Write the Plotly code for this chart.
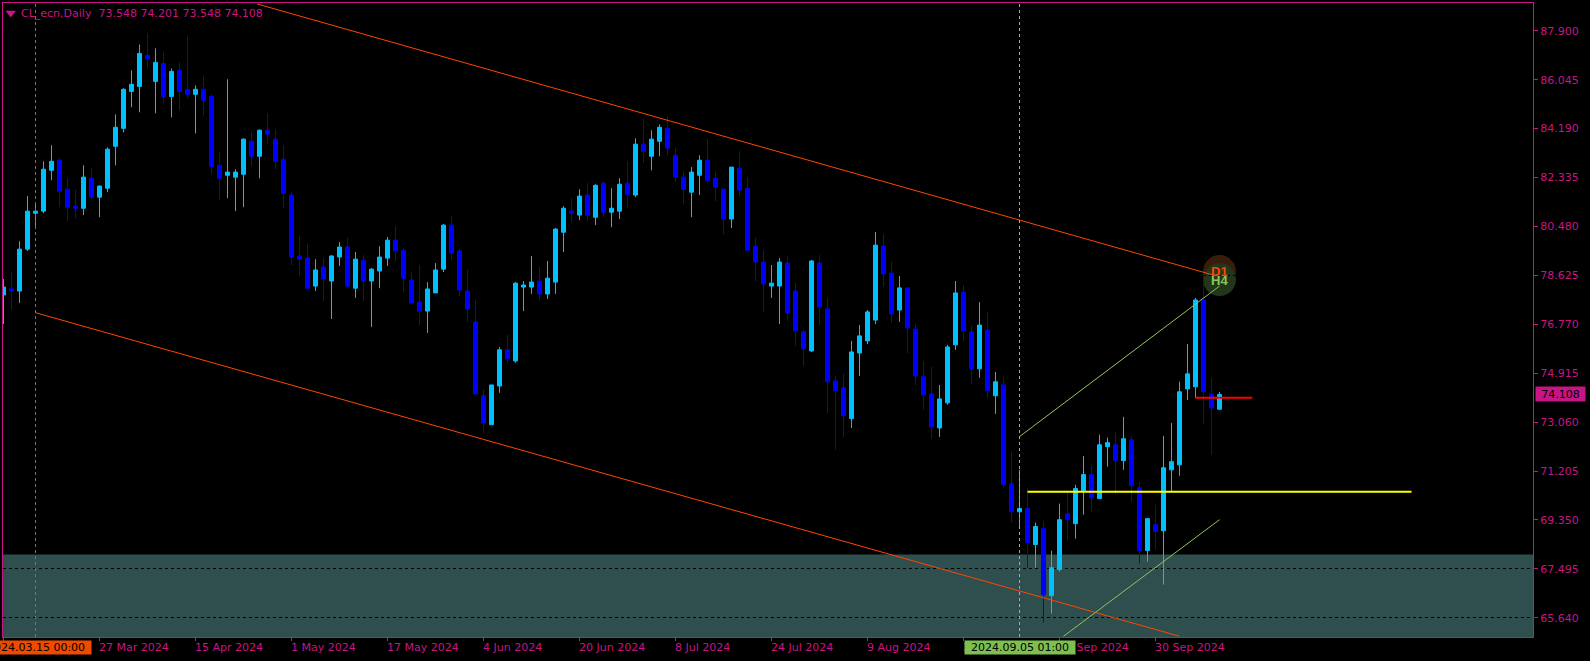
import plotly.graph_objects as go

PINK = '#C71585'
ORANGE = '#FF4500'
GREEN = '#8FC45A'
FONT = 'DejaVu Sans'

# daily bars
opens = [
    77.88, 78.11, 78.03, 79.62, 80.98, 81.06, 82.61, 82.99, 81.89, 81.25,
    81.17, 82.31, 81.59, 81.93, 83.52, 84.20, 85.60, 85.79, 86.97, 85.98,
    86.66, 85.41, 86.40, 85.68, 85.49, 85.68, 85.41, 82.80, 82.42, 82.35,
    82.46, 83.71, 83.14, 84.13, 83.79, 83.03, 81.67, 79.36, 79.28, 78.22,
    78.94, 78.41, 79.32, 79.70, 78.14, 79.20, 78.41, 78.79, 79.28, 79.96,
    79.58, 78.45, 77.61, 77.27, 77.96, 78.86, 80.53, 79.55, 78.03, 76.86,
    74.06, 72.96, 74.43, 75.80, 75.38, 78.18, 78.18, 78.41, 77.92, 78.37,
    80.26, 81.06, 80.91, 81.67, 80.83, 82.12, 81.02, 81.06, 82.12, 81.67,
    83.60, 83.14, 83.71, 84.20, 83.18, 82.35, 81.78, 82.42, 82.99, 82.31,
    81.89, 80.76, 82.69, 81.93, 79.73, 79.13, 78.22, 78.22, 79.09, 78.03,
    76.48, 75.76, 79.09, 77.35, 74.62, 74.36, 73.19, 75.68, 76.14, 76.93,
    79.74, 78.71, 77.31, 78.15, 76.59, 74.78, 74.13, 72.84, 73.79, 75.99,
    77.99, 76.48, 75.08, 76.55, 74.06, 74.47, 70.72, 69.66, 69.78, 68.42,
    69.02, 66.48, 67.47, 69.59, 69.21, 70.46, 71.07, 70.16, 72.13, 72.20,
    71.60, 72.39, 70.57, 68.19, 69.17, 68.94, 71.25, 71.44, 74.32, 74.40,
    77.69, 74.13, 73.548,
]
highs = [
    78.49, 78.75, 79.92, 81.63, 81.33, 82.95, 83.56, 83.07, 82.31, 81.86,
    82.80, 82.69, 82.04, 83.48, 84.73, 85.72, 86.40, 87.38, 87.80, 87.23,
    87.08, 86.47, 86.70, 87.69, 85.83, 86.17, 85.49, 83.29, 86.06, 82.65,
    83.82, 84.05, 84.16, 84.77, 84.16, 83.56, 81.78, 80.11, 79.81, 79.24,
    79.28, 79.39, 79.89, 80.04, 79.51, 79.39, 78.90, 79.73, 80.08, 80.49,
    79.66, 78.75, 79.02, 78.37, 79.09, 80.57, 80.87, 79.62, 78.83, 77.69,
    74.28, 74.47, 75.91, 76.37, 78.37, 78.41, 79.36, 78.94, 79.17, 80.42,
    81.25, 81.55, 81.89, 82.12, 82.08, 82.20, 81.93, 82.31, 82.95, 83.82,
    84.58, 84.13, 84.35, 84.66, 83.45, 82.57, 82.73, 83.18, 83.79, 82.57,
    81.93, 82.73, 83.33, 82.35, 80.04, 79.58, 79.02, 79.28, 79.36, 78.33,
    76.55, 79.21, 79.39, 77.77, 74.81, 74.89, 76.14, 76.74, 77.31, 80.27,
    80.19, 79.13, 78.60, 78.15, 76.78, 75.38, 75.15, 74.47, 75.99, 78.41,
    78.26, 76.71, 77.61, 77.24, 74.96, 74.78, 71.94, 71.25, 70.54, 69.25,
    69.32, 68.19, 69.97, 70.38, 70.69, 71.78, 71.41, 72.58, 72.47, 72.69,
    73.26, 72.54, 70.80, 69.40, 69.93, 72.54, 73.03, 74.59, 76.02, 77.77,
    78.71, 74.74, 74.201,
]
lows = [
    76.78, 77.31, 77.58, 79.55, 80.47, 80.98, 82.23, 81.21, 80.68, 80.80,
    80.91, 81.51, 80.83, 81.78, 82.80, 84.05, 85.00, 84.81, 86.47, 84.77,
    85.15, 84.62, 84.88, 85.34, 84.01, 84.69, 82.46, 81.48, 81.55, 81.06,
    81.21, 82.76, 82.31, 83.63, 82.65, 81.17, 79.02, 78.60, 78.11, 78.03,
    77.65, 76.97, 78.98, 78.18, 77.77, 77.65, 76.67, 78.14, 78.98, 79.17,
    77.99, 77.58, 76.74, 76.44, 77.96, 78.75, 79.20, 77.84, 76.86, 74.13,
    72.62, 72.96, 74.17, 75.31, 75.31, 77.27, 77.92, 77.69, 77.73, 77.92,
    79.51, 80.64, 80.72, 80.68, 80.53, 80.83, 80.45, 80.76, 81.17, 81.59,
    82.88, 82.61, 83.14, 83.18, 82.16, 81.33, 80.83, 81.67, 82.12, 81.44,
    80.19, 80.42, 81.63, 79.58, 78.41, 77.24, 77.77, 76.78, 76.90, 75.95,
    75.19, 75.72, 76.74, 73.41, 72.01, 72.50, 72.84, 74.81, 76.02, 76.78,
    78.18, 76.82, 76.86, 75.68, 74.47, 73.53, 72.43, 72.50, 73.72, 75.80,
    76.14, 74.51, 74.74, 73.98, 73.37, 70.57, 69.25, 69.06, 67.54, 67.54,
    65.46, 65.80, 67.39, 68.57, 68.64, 69.55, 69.63, 70.16, 71.37, 70.35,
    71.25, 70.04, 67.70, 67.77, 68.23, 66.90, 70.42, 71.03, 73.90, 73.98,
    73.00, 71.82, 73.548,
]
closes = [
    78.18, 78.03, 79.62, 81.06, 81.06, 82.65, 82.95, 81.82, 81.21, 81.17,
    82.35, 81.59, 82.01, 83.41, 84.24, 85.68, 85.87, 87.04, 86.85, 86.70,
    85.41, 86.36, 85.60, 85.49, 85.68, 85.26, 82.76, 82.31, 82.54, 82.54,
    83.79, 83.14, 84.13, 83.98, 82.95, 81.74, 79.32, 79.24, 78.14, 78.83,
    78.49, 79.36, 79.70, 78.22, 79.24, 78.41, 78.86, 79.32, 79.96, 79.55,
    78.52, 77.58, 77.27, 78.11, 78.83, 80.53, 79.47, 78.07, 77.35, 74.13,
    73.03, 74.47, 75.80, 75.46, 78.33, 78.26, 78.37, 77.92, 78.52, 80.38,
    81.17, 80.98, 81.63, 80.91, 82.04, 81.02, 81.17, 82.08, 81.70, 83.60,
    83.33, 83.79, 84.24, 83.45, 82.35, 81.89, 82.54, 82.99, 82.23, 81.97,
    80.76, 82.73, 81.86, 79.58, 79.13, 78.30, 78.33, 79.13, 77.20, 76.52,
    75.84, 79.17, 77.43, 74.59, 74.25, 73.30, 75.72, 76.33, 77.24, 79.77,
    78.68, 77.16, 78.15, 76.63, 74.81, 74.09, 72.88, 73.94, 75.91, 77.96,
    76.52, 75.08, 76.74, 74.25, 74.59, 70.69, 69.66, 69.78, 68.49, 69.10,
    66.52, 67.54, 69.36, 69.36, 70.54, 71.07, 70.19, 72.20, 72.28, 71.60,
    72.43, 70.65, 68.19, 69.40, 68.91, 71.33, 71.56, 74.21, 74.89, 77.69,
    74.21, 73.60, 74.108,
]
bar_index = list(range(len(opens)))

price_ticks = [65.640, 67.495, 69.350, 71.205, 73.060, 74.915, 76.770,
               78.625, 80.480, 82.335, 84.190, 86.045, 87.900]
date_ticks = [0, 12, 24, 36, 48, 60, 72, 84, 96, 108, 120, 132, 144]
date_labels = ['', '27 Mar 2024', '15 Apr 2024', '1 May 2024', '17 May 2024', '4 Jun 2024',
               '20 Jun 2024', '8 Jul 2024', '24 Jul 2024', '9 Aug 2024', '27 Aug 2024',
               '12 Sep 2024', '30 Sep 2024']

# drawn objects, in bar index / price
channel_top_x = [31.67, 151.2]
channel_top_y = [88.92, 78.64]
channel_low_x = [4, 147]
channel_low_y = [77.21, 64.94]
h4_up_x = [127, 152]
h4_up_y = [72.51, 78.22]
h4_low_x = [132.5, 152]
h4_low_y = [64.94, 69.36]
support_x = [128, 176]
support_y = [70.42, 70.42]
stop_x = [149, 156.1]
stop_y = [73.98, 73.98]
zone_top = 68.04
y_range = [64.912, 88.953]
x_range = [-0.0625, 191.1875]

fig = go.Figure()

fig.add_trace(go.Candlestick(x=bar_index, open=opens, high=highs, low=lows, close=closes,
                             increasing=dict(line=dict(color='#00BFFF', width=1), fillcolor='#00BFFF'),
                             decreasing=dict(line=dict(color='#0000FF', width=1), fillcolor='#0000FF'),
                             whiskerwidth=0, hoverinfo='skip'))

lines = [
    (channel_top_x, channel_top_y, ORANGE, 1),
    (channel_low_x, channel_low_y, ORANGE, 1),
    (h4_up_x, h4_up_y, GREEN, 1),
    (h4_low_x, h4_low_y, GREEN, 1),
    (support_x, support_y, '#FFFF00', 2),
    (stop_x, stop_y, '#FF0000', 2),
]
for lx, ly, color, width in lines:
    fig.add_trace(go.Scatter(x=lx, y=ly, mode='lines', line=dict(color=color, width=width), hoverinfo='skip'))

# little triangle next to the header
fig.add_trace(go.Scatter(x=[0.9], y=[88.575], mode='markers', hoverinfo='skip',
                         marker=dict(symbol='triangle-down', color=PINK, size=9, line=dict(width=0))))

shapes = [
    dict(type='rect', xref='paper', x0=0, x1=1, yref='y', y0=y_range[0], y1=zone_top,
         fillcolor='#2F4F4F', line=dict(width=0), layer='below'),
    dict(type='circle', x0=149.94, x1=154.06, y0=78.144, y1=79.394,
         fillcolor='#3A1C0B', line=dict(width=0), layer='below'),
    dict(type='circle', x0=149.94, x1=154.06, y0=77.841, y1=79.091,
         fillcolor='#22361B', line=dict(width=0), layer='below'),
    dict(type='line', x0=4, x1=4, y0=y_range[0], y1=y_range[1],
         line=dict(color=ORANGE, width=1, dash='3px,3px')),
    dict(type='line', x0=127, x1=127, y0=y_range[0], y1=y_range[1],
         line=dict(color=GREEN, width=1, dash='3px,3px')),
]

annotations = [
    dict(text='CL_ecn,Daily  73.548 74.201 73.548 74.108', xref='paper', yref='paper', x=0, y=1,
         xshift=16, yshift=-10, xanchor='left', yanchor='middle', showarrow=False,
         font=dict(family=FONT, size=11, color=PINK)),
    dict(text='D1', x=152, y=78.74, yshift=1, showarrow=False,
         font=dict(family='Liberation Sans', size=13, color=ORANGE, weight='bold')),
    dict(text='H4', x=152, y=78.44, yshift=0, showarrow=False,
         font=dict(family='Liberation Sans', size=13, color=GREEN, weight='bold')),
]
for tick, label in zip(date_ticks, date_labels):
    if label:
        annotations.append(dict(text=label, x=tick, xref='x', yref='paper', y=0, yshift=-10.5,
                                xshift=-3, xanchor='left', yanchor='middle', showarrow=False,
                                font=dict(family=FONT, size=11, color=PINK)))

# the tags sit on top of the date labels
annotations.append(dict(text='2024.03.15 00:00', x=4, xref='x', yref='paper', y=0, yshift=-10,
                        width=110, height=13, borderpad=0, align='center', bgcolor='#F04A00',
                        xanchor='center', yanchor='middle', showarrow=False,
                        font=dict(family=FONT, size=11, color='#000000')))
annotations.append(dict(text='2024.09.05 01:00', x=127, xref='x', yref='paper', y=0, yshift=-10,
                        width=110, height=13, borderpad=0, align='center', bgcolor='#7EBF50',
                        xanchor='center', yanchor='middle', showarrow=False,
                        font=dict(family=FONT, size=11, color='#000000')))
annotations.append(dict(text='74.108', xref='paper', x=1, y=74.108, yref='y', xshift=2,
                        width=49, height=14, borderpad=0, align='center', bgcolor=PINK,
                        xanchor='left', yanchor='middle', showarrow=False,
                        font=dict(family=FONT, size=11, color='#000000')))

fig.update_layout(
    width=1590, height=661, showlegend=False,
    paper_bgcolor='#000000', plot_bgcolor='#000000',
    margin=dict(l=3, r=57, t=2.5, b=23.5, autoexpand=False),
    boxgap=0.5, boxgroupgap=0,
    shapes=shapes, annotations=annotations,
    xaxis=dict(range=x_range, rangeslider=dict(visible=False), showgrid=False, zeroline=False,
               tickmode='array', tickvals=date_ticks, ticktext=[''] * len(date_ticks),
               ticks='outside', ticklen=3, tickwidth=1, tickcolor=PINK,
               showline=True, linecolor=PINK, linewidth=1, mirror=True),
    yaxis=dict(range=y_range, side='right', showgrid=True, gridcolor='#000000', gridwidth=1,
               griddash='3px,3px', zeroline=False,
               tickmode='array', tickvals=price_ticks, tickformat='.3f',
               ticks='outside', ticklen=4, tickwidth=1, tickcolor=PINK,
               tickfont=dict(family=FONT, size=11, color=PINK),
               showline=True, linecolor=PINK, linewidth=1, mirror=True),
)

# the page's default body margin would push the chart off by 8px
fig.write_html("out.html", config={'displayModeBar': False},
               post_script="document.body.style.margin='0';document.body.style.background='#000';")
